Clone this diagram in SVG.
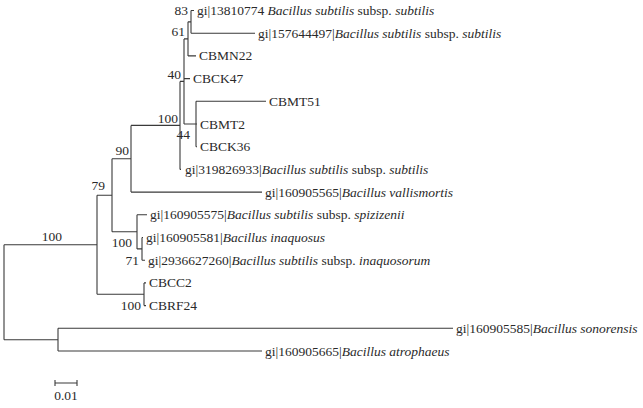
<svg xmlns="http://www.w3.org/2000/svg" width="643" height="408" viewBox="0 0 643 408">
<style>
.br{fill:none;stroke:#3a3a3a;stroke-width:1.1}
text{font-family:"Liberation Serif","Times New Roman",serif;font-size:13.5px;fill:#2a2a2a}
.bs{text-anchor:end}
.i{font-style:italic}
</style>
<rect width="643" height="408" fill="#fff"/>
<g id="connectors">
<path class="br" d="M4,244.8V339.7 M4,244.8H97 M4,339.7H58"/>
<path class="br" d="M58,328.3V351 M58,328.3H453 M58,351H262"/>
<path class="br" d="M97,195.3V294.3 M97,195.3H112 M97,294.3H144"/>
<path class="br" d="M144,282.9V305.6 M144,282.9H146 M144,305.6H146"/>
<path class="br" d="M112,158.8V231.8 M112,158.8H131 M112,231.8H137"/>
<path class="br" d="M137,214.8V248.9 M137,214.8H147 M137,248.9H142"/>
<path class="br" d="M142,237.5V260.2 M142,237.5H143 M142,260.2H145"/>
<path class="br" d="M131,125.4V192.1 M131,125.4H180 M131,192.1H262"/>
<path class="br" d="M180,81.4V169.4 M180,81.4H184 M180,169.4H181"/>
<path class="br" d="M184,38.9V124 M184,38.9H188 M184,78.6H190 M184,124H196"/>
<path class="br" d="M196,101.3V146.7 M196,101.3H266 M196,124H197 M196,146.7H197"/>
<path class="br" d="M188,21.85V55.9 M188,21.85H191 M188,55.9H196"/>
<path class="br" d="M191,10.5V33.2 M191,10.5H194 M191,33.2H255"/>
<path class="br" d="M55,383H77 M55,380V386 M77,380V386"/>
</g>
<g id="bootstrap">
<text class="bs" x="188" y="15">83</text>
<text class="bs" x="185" y="36">61</text>
<text class="bs" x="181" y="79">40</text>
<text class="bs" x="178" y="123">100</text>
<text class="bs" x="190" y="139">44</text>
<text class="bs" x="129" y="155">90</text>
<text class="bs" x="105" y="190">79</text>
<text class="bs" x="62" y="241">100</text>
<text class="bs" x="132" y="247">100</text>
<text class="bs" x="139" y="265">71</text>
<text class="bs" x="141" y="310">100</text>
</g>
<g id="t1"><text x="197" y="15">gi|13810774 <tspan class="i">Bacillus subtilis</tspan> subsp. <tspan class="i">subtilis</tspan></text></g>
<g id="t2"><text x="258" y="37.7">gi|157644497|<tspan class="i">Bacillus subtilis</tspan> subsp. <tspan class="i">subtilis</tspan></text></g>
<g id="t3"><text x="199" y="60.4">CBMN22</text></g>
<g id="t4"><text x="193" y="83.1">CBCK47</text></g>
<g id="t5"><text x="269" y="105.8">CBMT51</text></g>
<g id="t6"><text x="200" y="128.5">CBMT2</text></g>
<g id="t7"><text x="200" y="151.2">CBCK36</text></g>
<g id="t8"><text x="185" y="173.9">gi|319826933|<tspan class="i">Bacillus subtilis</tspan> subsp. <tspan class="i">subtilis</tspan></text></g>
<g id="t9"><text x="265" y="196.6">gi|160905565|<tspan class="i">Bacillus vallismortis</tspan></text></g>
<g id="t10"><text x="150" y="219.3">gi|160905575|<tspan class="i">Bacillus subtilis</tspan> subsp. <tspan class="i">spizizenii</tspan></text></g>
<g id="t11"><text x="146" y="242">gi|160905581|<tspan class="i">Bacillus inaquosus</tspan></text></g>
<g id="t12"><text x="148" y="264.7">gi|2936627260|<tspan class="i">Bacillus subtilis</tspan> subsp. <tspan class="i">inaquosorum</tspan></text></g>
<g id="t13"><text x="149" y="287.4">CBCC2</text></g>
<g id="t14"><text x="149" y="310.1">CBRF24</text></g>
<g id="t15"><text x="456" y="332.8">gi|160905585|<tspan class="i">Bacillus sonorensis</tspan></text></g>
<g id="t16"><text x="265" y="355.5">gi|160905665|<tspan class="i">Bacillus atrophaeus</tspan></text></g>
<g id="scale"><text x="66" y="400" text-anchor="middle">0.01</text></g>
</svg>
